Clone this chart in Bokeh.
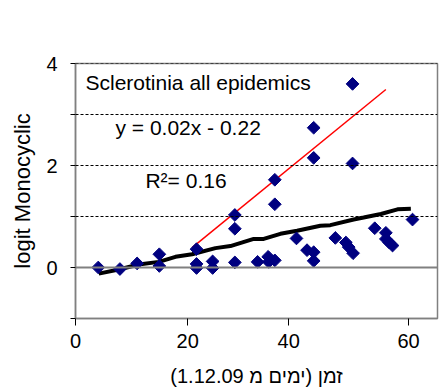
from bokeh.plotting import figure
from bokeh.models import Range1d, FixedTicker, Span, Label
from bokeh.embed import file_html
from bokeh.resources import INLINE
import numpy as np

# observed points (days since 1.12.09, logit Monocyclic)
days = [4.1, 8.0, 11.1, 15.1, 15.1, 21.8, 21.8, 21.8, 24.7, 24.7, 28.7, 28.7, 28.7,
        32.8, 34.7, 34.8, 35.9, 35.9, 35.9, 39.8, 41.7, 42.9, 42.9, 42.9, 42.9,
        46.8, 48.7, 49.2, 49.9, 49.9, 50.0, 53.9, 55.9, 55.9, 56.5, 57.1, 60.7]
logit = [0.0, -0.03, 0.08, 0.26, 0.03, 0.36, 0.07, -0.01, 0.12, -0.01, 1.03, 0.76, 0.10,
         0.11, 0.21, 0.11, 1.72, 1.24, 0.14, 0.57, 0.34, 2.74, 2.15, 0.30, 0.13,
         0.58, 0.49, 0.40, 3.60, 2.04, 0.28, 0.77, 0.68, 0.56, 0.49, 0.43, 0.94]

# black trend curve
trend_x = [4.2, 7.8, 11.4, 15.0, 18.0, 21.0, 25.2, 27.9, 32.1, 33.9, 36.9, 39.9,
           44.1, 45.9, 50.1, 51.9, 55.0, 58.0, 60.4]
trend_y = [-0.12, -0.04, 0.06, 0.11, 0.21, 0.26, 0.38, 0.42, 0.56, 0.56, 0.66, 0.72,
           0.82, 0.83, 0.94, 0.98, 1.05, 1.14, 1.15]

# red fitted line
fit_x = [21.0, 55.9]
fit_y = [0.39, 3.49]

x_ticks = [0, 20.2, 38.4, 60]
x_tick_labels = ["0", "20", "40", "60"]
y_ticks = [0, 2, 4]
y_minor = [-1, 1, 3]
gridlines = [1, 2, 3, 4]

FONT = "Liberation Sans"

p = figure(width=445, height=392, x_range=Range1d(0, 65.2), y_range=Range1d(-1, 4),
           output_backend="svg", toolbar_location=None,
           min_border_left=75, min_border_right=8, min_border_top=63, min_border_bottom=74)
p.background_fill_color = "white"
p.border_fill_color = "white"
p.outline_line_color = "#808080"
p.outline_line_width = 1.5
p.xgrid.visible = False
p.ygrid.visible = False

for g in gridlines:
    p.add_layout(Span(location=g, dimension="width", line_color="black",
                      line_width=1, line_dash="3 2"))
p.add_layout(Span(location=0, dimension="width", line_color="#808080", line_width=2))

p.line(trend_x, trend_y, line_color="black", line_width=4)
p.line(fit_x, fit_y, line_color="red", line_width=1.5)
p.scatter(days, logit, marker="square", angle=np.pi / 4, size=9,
          fill_color="#000080", line_color="#000080")

# x axis
xa = p.xaxis[0]
xa.ticker = FixedTicker(ticks=x_ticks, minor_ticks=[])
xa.major_label_overrides = {t: l for t, l in zip(x_ticks, x_tick_labels)}
xa.axis_line_color = "#808080"
xa.axis_line_width = 1.5
xa.major_tick_in = 0
xa.major_tick_out = 7
xa.major_tick_line_color = "black"
xa.minor_tick_line_color = None
xa.major_label_standoff = 8
xa.major_label_text_font = FONT
xa.major_label_text_font_size = "20px"
xa.major_label_text_color = "black"
xa.axis_label = "זמן (ימים מ 1.12.09)"
xa.axis_label_text_font = FONT
xa.axis_label_text_font_size = "20px"
xa.axis_label_text_font_style = "normal"
xa.axis_label_text_color = "black"
xa.axis_label_standoff = 14

# y axis
ya = p.yaxis[0]
ya.ticker = FixedTicker(ticks=y_ticks, minor_ticks=y_minor)
ya.axis_line_color = "#808080"
ya.axis_line_width = 1.5
ya.major_tick_in = 0
ya.major_tick_out = 5
ya.minor_tick_in = 0
ya.minor_tick_out = 5
ya.major_tick_line_color = "black"
ya.minor_tick_line_color = "black"
ya.major_label_standoff = 13
ya.major_label_text_font = FONT
ya.major_label_text_font_size = "20px"
ya.major_label_text_color = "black"
ya.axis_label = "logit Monocyclic"
ya.axis_label_text_font = FONT
ya.axis_label_text_font_size = "22px"
ya.axis_label_text_font_style = "normal"
ya.axis_label_text_color = "black"
ya.axis_label_standoff = 8

for txt, lx, ly in [("Sclerotinia all epidemics", 1.8, 3.63),
                    ("y = 0.02x - 0.22", 7.2, 2.74),
                    ("R²= 0.16", 12.6, 1.70)]:
    p.add_layout(Label(x=lx, y=ly, text=txt, text_font=FONT, text_font_size="21px",
                       text_baseline="middle", text_color="black"))

open("out.html", "w").write(file_html(p, INLINE))
